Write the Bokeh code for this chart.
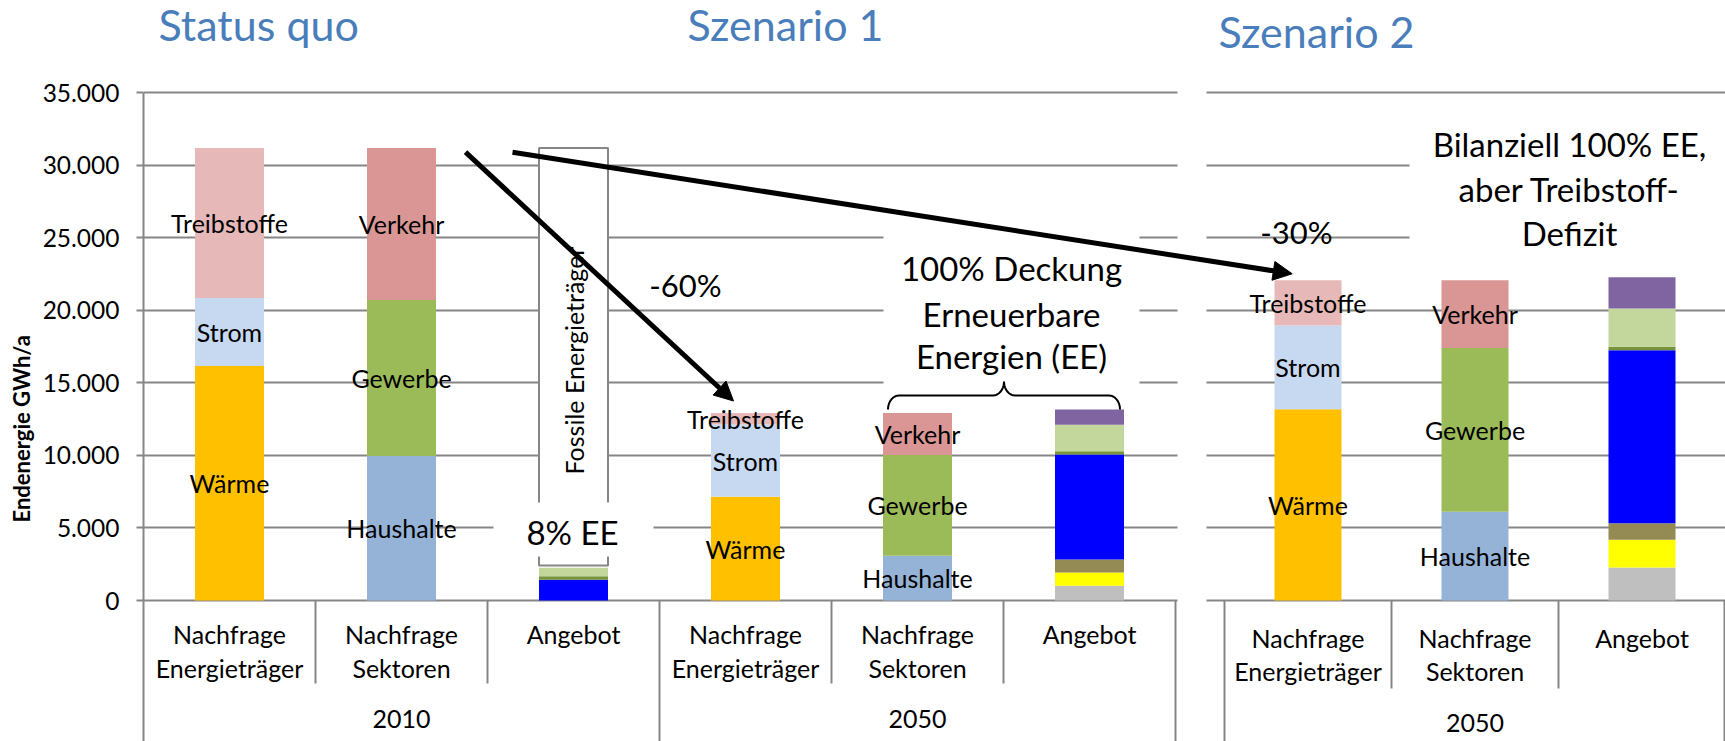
import numpy as np
from bokeh.plotting import figure
from bokeh.layouts import column, row
from bokeh.models import Range1d, FixedTicker, Arrow, NormalHead, ColumnDataSource
from bokeh.core.properties import value
from bokeh.embed import file_html
from bokeh.resources import INLINE

# ---------------- data ----------------
scenarios = ["Status quo", "Szenario 1", "Szenario 2"]
years = ["2010", "2050", "2050"]
cat_line1 = ["Nachfrage", "Nachfrage", "Angebot"]
cat_line2 = ["Energieträger", "Sektoren", ""]

carriers = ["Wärme", "Strom", "Treibstoffe"]
waerme = [16150, 7150, 13170]
strom = [4700, 4980, 5770]
treibstoffe = [10330, 780, 3120]

sectors = ["Haushalte", "Gewerbe", "Verkehr"]
haushalte = [9950, 3080, 6110]
gewerbe = [10750, 6940, 11290]
verkehr = [10480, 2890, 4660]

supply = ["Sonstige", "Photovoltaik", "Biomasse", "Windenergie", "Wasserkraft", "Biogas", "Solarthermie"]
sup_grau = [0, 1010, 2270]
sup_gelb = [0, 920, 1920]
sup_oliv = [0, 900, 1140]
sup_blau = [1425, 7230, 11920]
sup_dunkelgruen = [250, 230, 230]
sup_hellgruen = [580, 1820, 2640]
sup_violett = [0, 1050, 2150]
fossil = [28925, 0, 0]
fossil_label = "Fossile Energieträger"

y_ticks = [0, 5000, 10000, 15000, 20000, 25000, 30000, 35000]
y_tick_labels = ["0", "5.000", "10.000", "15.000", "20.000", "25.000", "30.000", "35.000"]
y_title = "Endenergie GWh/a"

reduction_labels = ["-60%", "-30%"]
ee_share_label = "8% EE"
s1_note = ["100% Deckung", "Erneuerbare", "Energien (EE)"]
s2_note = ["Bilanziell 100% EE,", "aber Treibstoff-", "Defizit"]

# ---------------- layout / style ----------------
W, H = 1725, 741
TITLE_H = 70
LABEL_W = 36
AXIS_X = 143
ZERO_Y = 600
FRAME_TOP = 90
PX_PER_UNIT = 72.57 / 5000.0
FONT = "Lato"
GRID = "#868686"
TITLE_BLUE = "#4A7EBB"

carrier_colors = ["#FFC000", "#C6D9F1", "#E6B9B8"]
sector_colors = ["#95B3D7", "#9BBB59", "#D99694"]
supply_colors = ["#BFBFBF", "#FFFF00", "#948A54", "#0000FF", "#77933C", "#C3D69B", "#8064A2"]

group_left = [143, 659, 1224]
group_cat_w = [172, 172, 167]
bar_w = [69, 69, 67]
cat_y1 = [633, 633, 637]
cat_y2 = [667, 667, 670]
group_y = [718, 718, 722]
inner_sep_bottom = [683, 683, 688]


def xd(rx):
    return rx - AXIS_X


def yd(ry):
    return (ZERO_Y - ry) / PX_PER_UNIT


def cx(k, j):
    return xd(group_left[k] + (j + 0.5) * group_cat_w[k])


def base_fig(**kw):
    f = figure(output_backend="svg", toolbar_location=None, min_border_right=0,
               min_border_top=0, min_border_bottom=0, **kw)
    f.outline_line_color = None
    return f


# ---------------- title strip ----------------
pt = base_fig(width=W, height=TITLE_H, x_range=Range1d(0, W - AXIS_X), y_range=Range1d(0, TITLE_H),
              x_axis_location=None, y_axis_location=None, min_border_left=AXIS_X)
pt.grid.visible = False
title_pos = [(158, 24), (687, 24), (1218, 31)]
pt.text(x=[xd(a) for a, b in title_pos], y=[TITLE_H - b for a, b in title_pos], text=scenarios,
        text_font=value(FONT), text_font_size=value("43px"), text_color=TITLE_BLUE,
        text_align="left", text_baseline="middle")

y_min = yd(H)
y_max = yd(FRAME_TOP)

# ---------------- y-axis title strip ----------------
pl = base_fig(width=LABEL_W, height=H - TITLE_H, x_range=Range1d(0, LABEL_W), y_range=Range1d(y_min, y_max),
              x_axis_location=None, y_axis_location=None, min_border_left=0)
pl.grid.visible = False
pl.text(x=[21], y=[yd(522)], text=[y_title], angle=np.pi / 2,
        text_font=value(FONT), text_font_style="bold", text_font_size=value("22px"),
        text_color="black", text_align="left", text_baseline="middle")

# ---------------- main chart ----------------
p = base_fig(width=W - LABEL_W, height=H - TITLE_H,
             x_range=Range1d(0, W - AXIS_X), y_range=Range1d(y_min, y_max),
             x_axis_location=None, y_axis_location="left",
             min_border_left=AXIS_X - LABEL_W)
p.min_border_top = FRAME_TOP - TITLE_H
p.background_fill_color = "white"
p.xgrid.visible = False

ax = p.yaxis[0]
ax.ticker = FixedTicker(ticks=y_ticks)
ax.bounds = (y_min, y_ticks[-1])
ax.major_label_overrides = {t: l for t, l in zip(y_ticks, y_tick_labels)}
ax.major_label_text_font = FONT
ax.major_label_text_font_size = "24.5px"
ax.major_label_text_color = "black"
ax.major_label_standoff = 17
ax.axis_line_color = GRID
ax.axis_line_width = 2
ax.major_tick_line_color = GRID
ax.major_tick_line_width = 2
ax.major_tick_in = 0
ax.major_tick_out = 7
ax.minor_tick_line_color = None

p.ygrid.ticker = FixedTicker(ticks=y_ticks)
p.ygrid.grid_line_color = GRID
p.ygrid.grid_line_width = 2

# gap between the two chart parts
p.quad(left=[xd(1177)], right=[xd(1206)], bottom=[y_min - 1000], top=[yd(60)],
       fill_color="white", line_color=None)

# category axis separators
sx0, sy0, sx1, sy1 = [], [], [], []
for k in range(3):
    for m in (1, 2):
        xx = xd(group_left[k] + m * group_cat_w[k])
        sx0.append(xx); sx1.append(xx); sy0.append(0); sy1.append(yd(inner_sep_bottom[k]))
outer = [group_left[0] + 3 * group_cat_w[0], group_left[1] + 3 * group_cat_w[1],
         group_left[2], group_left[2] + 3 * group_cat_w[2] - 1]
for xr in outer:
    sx0.append(xd(xr)); sx1.append(xd(xr)); sy0.append(0); sy1.append(y_min - 1000)
p.segment(x0=sx0, y0=sy0, x1=sx1, y1=sy1, line_color=GRID, line_width=2)

# ---- stacked bars ----
et = ColumnDataSource(dict(x=[cx(k, 0) for k in range(3)], w=bar_w,
                           **{carriers[0]: waerme, carriers[1]: strom, carriers[2]: treibstoffe}))
p.vbar_stack(carriers, x="x", width="w", source=et, fill_color=carrier_colors, line_color=None)

sk = ColumnDataSource(dict(x=[cx(k, 1) for k in range(3)], w=bar_w,
                           **{sectors[0]: haushalte, sectors[1]: gewerbe, sectors[2]: verkehr}))
p.vbar_stack(sectors, x="x", width="w", source=sk, fill_color=sector_colors, line_color=None)

sup_vals = [sup_grau, sup_gelb, sup_oliv, sup_blau, sup_dunkelgruen, sup_hellgruen, sup_violett]
sp = ColumnDataSource(dict(x=[cx(k, 2) for k in range(3)], w=bar_w,
                           **{n: v for n, v in zip(supply, sup_vals)}))
p.vbar_stack(supply, x="x", width="w", source=sp, fill_color=supply_colors, line_color=None)

# fossil part (outlined white box)
ee_tot = [sum(v[k] for v in sup_vals) for k in range(3)]
fk = [k for k in range(3) if fossil[k] > 0]
p.vbar(x=[cx(k, 2) for k in fk], width=[bar_w[k] for k in fk],
       bottom=[ee_tot[k] + 150 for k in fk], top=[ee_tot[k] + fossil[k] for k in fk],
       fill_color="white", line_color=GRID, line_width=2)

# white backgrounds of annotation texts
bgs = [(493, 653, 502, 556), (883, 1139, 232, 392), (1409, 1730, 115, 255)]
p.quad(left=[xd(b[0]) for b in bgs], right=[xd(b[1]) for b in bgs],
       top=[yd(b[2]) for b in bgs], bottom=[yd(b[3]) for b in bgs],
       fill_color="white", line_color=None)

# segment labels
lx, ly, lt = [], [], []
for names, vals, j in ((carriers, [waerme, strom, treibstoffe], 0),
                       (sectors, [haushalte, gewerbe, verkehr], 1)):
    for k in range(3):
        base = 0
        for n, v in zip(names, vals):
            lx.append(cx(k, j)); ly.append(base + v[k] / 2.0); lt.append(n)
            base += v[k]
p.text(x=lx, y=ly, text=lt, text_font=value(FONT), text_font_size=value("25px"),
       text_align="center", text_baseline="middle", text_color="black")

# category labels
clx, cly, clt = [], [], []
for k in range(3):
    for j in range(3):
        clx.append(cx(k, j)); cly.append(yd(cat_y1[k])); clt.append(cat_line1[j])
        if cat_line2[j]:
            clx.append(cx(k, j)); cly.append(yd(cat_y2[k])); clt.append(cat_line2[j])
    clx.append(xd(group_left[k] + 1.5 * group_cat_w[k])); cly.append(yd(group_y[k])); clt.append(years[k])
p.text(x=clx, y=cly, text=clt, text_font=value(FONT), text_font_size=value("25px"),
       text_align="center", text_baseline="middle", text_color="black")

# fossil vertical label
p.text(x=[cx(k, 2) for k in fk], y=[yd(360)] * len(fk), text=[fossil_label] * len(fk),
       angle=np.pi / 2, text_font=value(FONT), text_font_size=value("25px"),
       text_align="center", text_baseline="middle", text_color="black")

# reduction texts
p.text(x=[xd(685), xd(1296)], y=[yd(284), yd(231)], text=reduction_labels,
       text_font=value(FONT), text_font_size=value("31px"),
       text_align="center", text_baseline="middle", text_color="black")

# annotation texts
ax_x = [xd(572)] + [xd(1011)] * 3 + [xd(1569)] * 3
ax_y = [yd(531), yd(267), yd(313), yd(355), yd(143), yd(188), yd(232)]
ax_t = [ee_share_label] + s1_note + s2_note
p.text(x=ax_x, y=ax_y, text=ax_t, text_font=value(FONT), text_font_size=value("33px"),
       text_align="center", text_baseline="middle", text_color="black")

# brace over scenario-1 bars
x0 = cx(1, 1) - bar_w[1] / 2 + 5
x1 = cx(1, 2) + bar_w[1] / 2 - 4
xm = (x0 + x1) / 2
y0 = ee_tot[1]
r = 11
ry = 14 / PX_PER_UNIT
t1 = np.linspace(np.pi, np.pi / 2, 12)
t2 = np.linspace(-np.pi / 2, 0, 12)
t3 = np.linspace(np.pi, 1.5 * np.pi, 12)
t4 = np.linspace(np.pi / 2, 0, 12)
bx = np.concatenate([x0 + r + r * np.cos(t1), xm - r + r * np.cos(t2),
                     xm + r + r * np.cos(t3), x1 - r + r * np.cos(t4)])
by = np.concatenate([y0 + ry * np.sin(t1), y0 + 2 * ry + ry * np.sin(t2),
                     y0 + 2 * ry + ry * np.sin(t3), y0 + ry * np.sin(t4)])
p.line(bx, by, line_color="black", line_width=2)

# arrows
for (xs, ys, xe, ye) in [(465, 151.7, 733, 400.5), (512, 151.7, 1291.7, 273.3)]:
    p.add_layout(Arrow(x_start=xd(xs), y_start=yd(ys), x_end=xd(xe), y_end=yd(ye),
                       line_width=5, line_color="black",
                       end=NormalHead(size=19, fill_color="black", line_color="black", line_width=1)))

layout = column(pt, row(pl, p, spacing=0), spacing=0)
open("out.html", "w").write(file_html(layout, INLINE))
